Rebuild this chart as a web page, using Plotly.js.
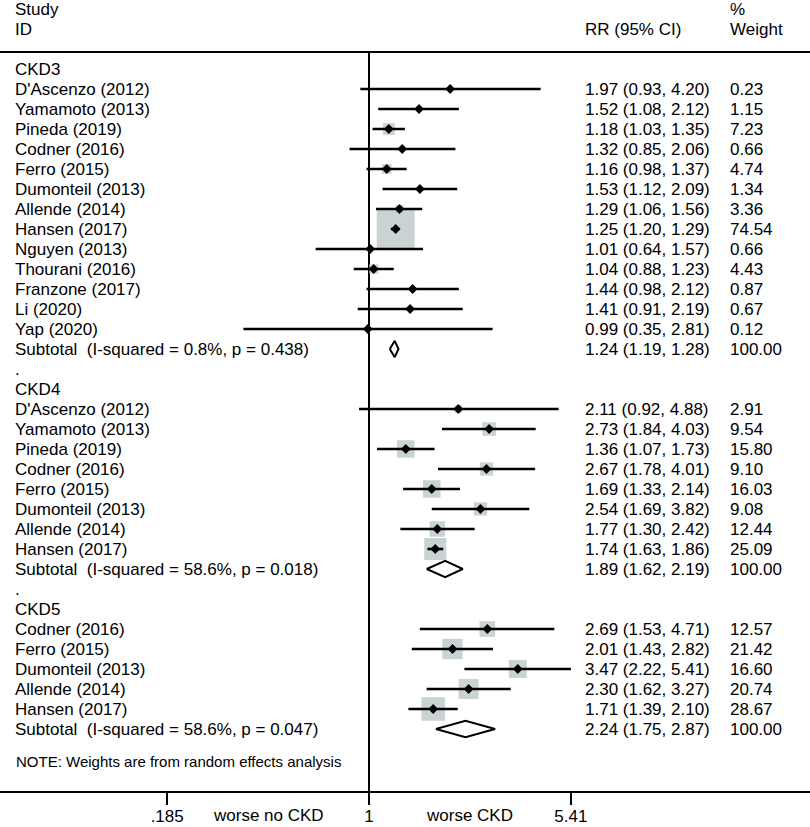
<!DOCTYPE html>
<html>
<head>
<meta charset="utf-8">
<script src="https://cdn.plot.ly/plotly-3.0.1.min.js"></script>
<style>
html,body{margin:0;padding:0;background:#fff;}
#chart{width:810px;height:827px;}
</style>
</head>
<body>
<div id="chart"></div>
<script>
// ---------------- DATA ----------------
const groupNames = ['CKD3', 'CKD4', 'CKD5'];

const ckd3Study = ["D'Ascenzo (2012)", "Yamamoto (2013)", "Pineda (2019)", "Codner (2016)", "Ferro (2015)", "Dumonteil (2013)", "Allende (2014)", "Hansen (2017)", "Nguyen (2013)", "Thourani (2016)", "Franzone (2017)", "Li (2020)", "Yap (2020)"];
const ckd3RR = [1.97, 1.52, 1.18, 1.32, 1.16, 1.53, 1.29, 1.25, 1.01, 1.04, 1.44, 1.41, 0.99];
const ckd3Lo = [0.93, 1.08, 1.03, 0.85, 0.98, 1.12, 1.06, 1.20, 0.64, 0.88, 0.98, 0.91, 0.35];
const ckd3Hi = [4.20, 2.12, 1.35, 2.06, 1.37, 2.09, 1.56, 1.29, 1.57, 1.23, 2.12, 2.19, 2.81];
const ckd3W  = [0.23, 1.15, 7.23, 0.66, 4.74, 1.34, 3.36, 74.54, 0.66, 4.43, 0.87, 0.67, 0.12];

const ckd4Study = ["D'Ascenzo (2012)", "Yamamoto (2013)", "Pineda (2019)", "Codner (2016)", "Ferro (2015)", "Dumonteil (2013)", "Allende (2014)", "Hansen (2017)"];
const ckd4RR = [2.11, 2.73, 1.36, 2.67, 1.69, 2.54, 1.77, 1.74];
const ckd4Lo = [0.92, 1.84, 1.07, 1.78, 1.33, 1.69, 1.30, 1.63];
const ckd4Hi = [4.88, 4.03, 1.73, 4.01, 2.14, 3.82, 2.42, 1.86];
const ckd4W  = [2.91, 9.54, 15.80, 9.10, 16.03, 9.08, 12.44, 25.09];

const ckd5Study = ["Codner (2016)", "Ferro (2015)", "Dumonteil (2013)", "Allende (2014)", "Hansen (2017)"];
const ckd5RR = [2.69, 2.01, 3.47, 2.30, 1.71];
const ckd5Lo = [1.53, 1.43, 2.22, 1.62, 1.39];
const ckd5Hi = [4.71, 2.82, 5.41, 3.27, 2.10];
const ckd5W  = [12.57, 21.42, 16.60, 20.74, 28.67];

const subRR = [1.24, 1.89, 2.24];
const subLo = [1.19, 1.62, 1.75];
const subHi = [1.28, 2.19, 2.87];
const subI2 = ['0.8%', '58.6%', '58.6%'];
const subP  = ['0.438', '0.018', '0.047'];
const subW  = [100.00, 100.00, 100.00];

const tickVals = [0.185, 1, 5.41];
const tickText = ['.185', '1', '5.41'];
const sideLabels = ['worse no CKD', 'worse CKD'];
const noteText = 'NOTE: Weights are from random effects analysis';

// ---------------- LAYOUT HELPERS ----------------
const W = 810, H = 827;
const FONT = 'Liberation Sans, Arial, Helvetica, sans-serif';
const FS = 17;
const row0px = 69, rowPitch = 20;          // row -> pixel
const axisPx = 791;                       // x axis line
const pxPerLog10 = 275.4, onePx = 369;    // log scale placement
const xRange = [(0 - onePx) / pxPerLog10, (W - onePx) / pxPerLog10];
const yTopRow = (0 - row0px) / rowPitch;
const yBotRow = (axisPx - row0px) / rowPitch;

const groups = [
  {study: ckd3Study, rr: ckd3RR, lo: ckd3Lo, hi: ckd3Hi, w: ckd3W},
  {study: ckd4Study, rr: ckd4RR, lo: ckd4Lo, hi: ckd4Hi, w: ckd4W},
  {study: ckd5Study, rr: ckd5RR, lo: ckd5Lo, hi: ckd5Hi, w: ckd5W}
];

const annotations = [];
function addText(txt, xpx, row, opts) {
  annotations.push(Object.assign({
    text: txt, xref: 'paper', yref: 'y', x: xpx / W, y: row,
    xanchor: 'left', yanchor: 'middle', showarrow: false,
    font: {family: FONT, size: FS, color: '#000'}
  }, opts || {}));
}
const xName = 13, xCI = 583, xW = 728;

// header
addText('Study', xName, -3);
addText('ID', xName, -2);
addText('RR (95% CI)', xCI, -2);
addText('%', xW, -3);
addText('Weight', xW, -2);

const fmt = v => v.toFixed(2);
const ciX = [], ciY = [], ptX = [], ptY = [], boxSize = [];
const diamondTraces = [];
let row = 0;
groups.forEach((g, gi) => {
  addText(groupNames[gi], xName, row);
  row++;
  g.study.forEach((s, i) => {
    addText(s, xName, row);
    addText(fmt(g.rr[i]) + ' (' + fmt(g.lo[i]) + ', ' + fmt(g.hi[i]) + ')', xCI, row);
    addText(fmt(g.w[i]), xW, row);
    ciX.push(g.lo[i], g.hi[i], null);
    ciY.push(row, row, null);
    ptX.push(g.rr[i]);
    ptY.push(row);
    boxSize.push(4.4 * Math.sqrt(g.w[i]));
    row++;
  });
  addText('Subtotal  (I-squared = ' + subI2[gi] + ', p = ' + subP[gi] + ')', xName, row);
  addText(fmt(subRR[gi]) + ' (' + fmt(subLo[gi]) + ', ' + fmt(subHi[gi]) + ')', xCI, row);
  addText(fmt(subW[gi]), xW, row);
  diamondTraces.push({
    type: 'scatter', mode: 'lines',
    x: [subLo[gi], subRR[gi], subHi[gi], subRR[gi], subLo[gi]],
    y: [row, row - 0.41, row, row + 0.41, row],
    fill: 'toself', fillcolor: '#ffffff',
    line: {color: '#000', width: 2}, hoverinfo: 'skip'
  });
  row++;
  if (gi < groups.length - 1) {
    addText('.', xName, row);
    row++;
  }
});
addText(noteText, xName + 1, row + 0.6, {font: {family: FONT, size: 15, color: '#000'}});

// side labels under axis
sideLabels.forEach((t, i) => {
  const v = i === 0 ? Math.sqrt(tickVals[0]) : Math.sqrt(tickVals[2]);
  annotations.push({
    text: t, xref: 'x', yref: 'paper', x: Math.log10(v), y: (H - 815) / H,
    xanchor: 'center', yanchor: 'middle', showarrow: false,
    font: {family: FONT, size: FS, color: '#000'}
  });
});

const traces = [
  {type: 'scatter', mode: 'markers', x: ptX, y: ptY,
   marker: {symbol: 'square', size: boxSize, color: '#b3c1c1', line: {width: 0}},
   hoverinfo: 'skip'},
  {type: 'scatter', mode: 'lines', x: ciX, y: ciY,
   line: {color: '#000', width: 2.6}, connectgaps: false, hoverinfo: 'skip'},
  {type: 'scatter', mode: 'markers', x: ptX, y: ptY,
   marker: {symbol: 'diamond', size: 7.5, color: '#000', line: {width: 0}},
   hoverinfo: 'skip'}
].concat(diamondTraces);

const topRow = (52 - row0px) / rowPitch;

const layout = {
  width: W, height: H,
  margin: {l: 0, r: 0, t: 0, b: 0, pad: 0},
  paper_bgcolor: '#fff', plot_bgcolor: '#fff',
  showlegend: false,
  font: {family: FONT, size: FS, color: '#000'},
  xaxis: {
    type: 'log', range: xRange, domain: [0, 1],
    showgrid: false, zeroline: false,
    showline: true, linecolor: '#000', linewidth: 2,
    ticks: 'outside', ticklen: 12, tickwidth: 2, tickcolor: '#000',
    tickvals: tickVals, ticktext: tickText,
    ticklabelstandoff: -3,
    tickfont: {family: FONT, size: FS, color: '#000'},
    fixedrange: true
  },
  yaxis: {
    range: [yBotRow, yTopRow], domain: [(H - axisPx) / H, 1],
    visible: false, fixedrange: true
  },
  shapes: [
    {type: 'line', xref: 'paper', yref: 'y', x0: 0, x1: 1, y0: topRow, y1: topRow,
     line: {color: '#000', width: 2}, layer: 'below'},
    {type: 'line', xref: 'x', yref: 'y', x0: 1, x1: 1, y0: topRow, y1: yBotRow,
     line: {color: '#000', width: 2}, layer: 'below'}
  ],
  annotations: annotations
};

Plotly.newPlot('chart', traces, layout, {staticPlot: true, displayModeBar: false});
</script>
</body>
</html>
